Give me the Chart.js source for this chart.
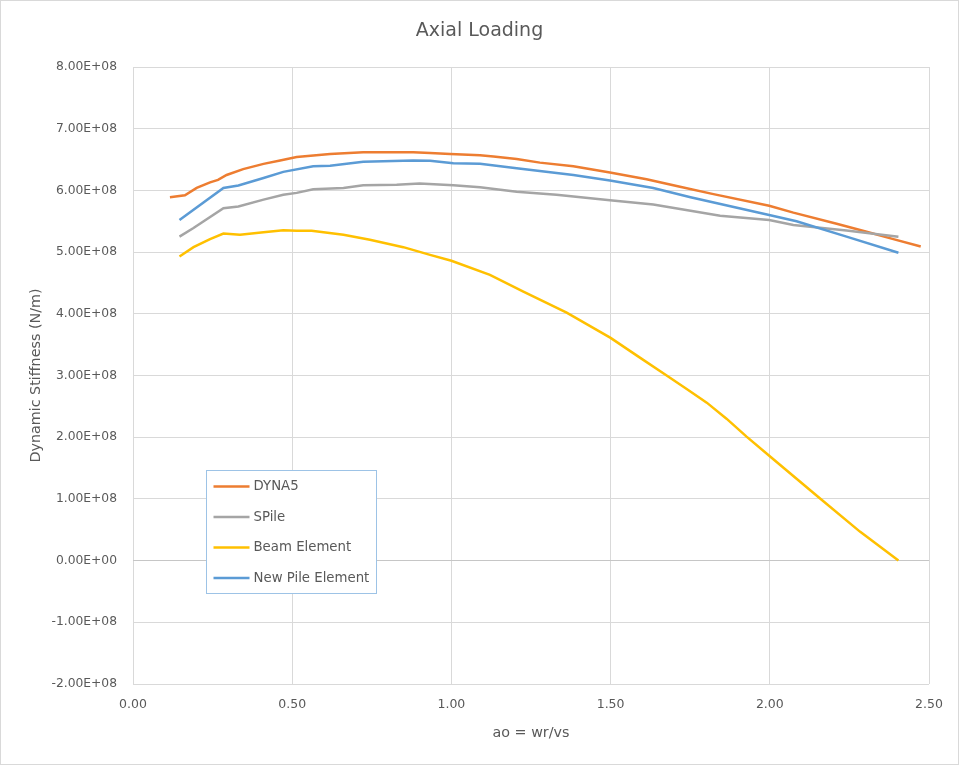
<!DOCTYPE html>
<html>
<head>
<meta charset="utf-8">
<script src="https://cdn.jsdelivr.net/npm/chart.js@4/dist/chart.umd.min.js"></script>
<style>
  html, body { margin: 0; padding: 0; background: #ffffff; }
  #wrap { width: 959px; height: 765px; position: relative; }
</style>
</head>
<body>
<div id="wrap"><canvas id="c" width="959" height="765"></canvas></div>
<script>
// ---- Data (stiffness in units of 1E+08 N/m) ----
const seriesNames = ["DYNA5", "SPile", "Beam Element", "New Pile Element"];

const dyna5X = [0.116,0.163,0.20,0.242,0.267,0.294,0.346,0.41,0.462,0.514,0.619,0.723,0.88,0.933,0.996,1.09,1.132,1.205,1.278,1.383,1.498,1.613,1.718,1.823,1.998,2.074,2.21,2.304,2.388,2.474];
const dyna5Y = [5.89,5.92,6.04,6.13,6.17,6.25,6.345,6.43,6.485,6.54,6.59,6.62,6.62,6.605,6.59,6.57,6.55,6.51,6.45,6.39,6.29,6.18,6.06,5.94,5.75,5.64,5.46,5.33,5.21,5.09];

const spileX = [0.146,0.19,0.284,0.331,0.41,0.472,0.514,0.566,0.661,0.723,0.828,0.90,1.006,1.09,1.205,1.330,1.498,1.634,1.751,1.844,1.998,2.074,2.241,2.404];
const spileY = [5.25,5.39,5.71,5.74,5.85,5.93,5.96,6.02,6.04,6.085,6.09,6.11,6.085,6.05,5.98,5.93,5.84,5.77,5.67,5.59,5.52,5.44,5.35,5.25];

const beamX = [0.146,0.19,0.242,0.284,0.336,0.41,0.472,0.514,0.561,0.661,0.744,0.849,0.933,1.0,1.121,1.226,1.362,1.50,1.592,1.676,1.739,1.802,1.864,1.927,2.0,2.157,2.283,2.404];
const beamY = [4.93,5.08,5.21,5.30,5.28,5.32,5.355,5.345,5.345,5.28,5.20,5.08,4.955,4.86,4.63,4.36,4.02,3.61,3.29,3.00,2.78,2.56,2.30,2.01,1.69,1.01,0.47,0.0];

const newPileX = [0.146,0.284,0.331,0.41,0.472,0.566,0.619,0.723,0.88,0.933,1.006,1.09,1.205,1.383,1.498,1.634,1.751,1.998,2.084,2.241,2.404];
const newPileY = [5.52,6.04,6.08,6.20,6.30,6.39,6.40,6.465,6.485,6.48,6.44,6.43,6.36,6.25,6.16,6.04,5.89,5.60,5.50,5.25,4.99];

const xTickValues = [0, 0.5, 1.0, 1.5, 2.0, 2.5];
const yTickValues = [-2e8, -1e8, 0, 1e8, 2e8, 3e8, 4e8, 5e8, 6e8, 7e8, 8e8];

const UNIT = 1e8;
function toPoints(xs, ys) { return xs.map((x, i) => ({ x: x, y: ys[i] * UNIT })); }

const colors = ["#ED7D31", "#A5A5A5", "#FFC000", "#5B9BD5"];
const TEXT = "#595959";
const FONT = "'DejaVu Sans', sans-serif";

function sci(v) {
  if (v === 0) return "0.00E+00";
  const sign = v < 0 ? "-" : "";
  const a = Math.abs(v);
  const e = Math.floor(Math.log10(a) + 1e-9);
  const m = a / Math.pow(10, e);
  return sign + m.toFixed(2) + "E+" + String(e).padStart(2, "0");
}

const bgPlugin = {
  id: "bg",
  beforeDraw(chart) {
    const ctx = chart.ctx;
    ctx.save();
    ctx.fillStyle = "#ffffff";
    ctx.fillRect(0, 0, chart.width, chart.height);
    ctx.strokeStyle = "#d9d9d9";
    ctx.lineWidth = 1;
    ctx.strokeRect(0.5, 0.5, chart.width - 1, chart.height - 1);
    ctx.restore();
  }
};

const legendPlugin = {
  id: "boxLegend",
  afterDraw(chart) {
    const ctx = chart.ctx;
    const ca = chart.chartArea;
    const bx = ca.left + 73.5, by = ca.top + 403.5, bw = 170, bh = 123;
    ctx.save();
    ctx.fillStyle = "#ffffff";
    ctx.fillRect(bx, by, bw, bh);
    ctx.strokeStyle = "#9DC3E6";
    ctx.lineWidth = 1;
    ctx.strokeRect(bx, by, bw, bh);
    ctx.font = "13.3px " + FONT;
    ctx.textBaseline = "middle";
    ctx.textAlign = "left";
    chart.data.datasets.forEach((ds, i) => {
      const y = by + 16 + i * 30.5;
      ctx.strokeStyle = ds.borderColor;
      ctx.lineWidth = 2.5;
      ctx.beginPath();
      ctx.moveTo(bx + 7, y);
      ctx.lineTo(bx + 43, y);
      ctx.stroke();
      ctx.fillStyle = TEXT;
      ctx.fillText(ds.label, bx + 47, y + 0.5);
    });
    ctx.restore();
  }
};

const datasets = [
  toPoints(dyna5X, dyna5Y),
  toPoints(spileX, spileY),
  toPoints(beamX, beamY),
  toPoints(newPileX, newPileY)
].map((pts, i) => ({
  label: seriesNames[i],
  data: pts,
  borderColor: colors[i],
  backgroundColor: colors[i],
  borderWidth: 2.5,
  pointRadius: 0,
  tension: 0,
  fill: false,
  order: 4 - i
}));

new Chart(document.getElementById("c"), {
  type: "line",
  data: { datasets: datasets },
  plugins: [bgPlugin, legendPlugin],
  options: {
    responsive: false,
    animation: false,
    layout: { padding: { left: 0, right: 0, top: 0, bottom: 0 } },
    plugins: {
      legend: { display: false },
      tooltip: { enabled: false },
      title: {
        display: true,
        text: "Axial Loading",
        color: TEXT,
        font: { family: FONT, size: 19, weight: "normal", lineHeight: 1.2 },
        padding: { top: 19.5, bottom: 24.7 }
      }
    },
    scales: {
      x: {
        type: "linear",
        min: 0, max: 2.5,
        afterFit(scale) { scale.height = 81; },
        afterBuildTicks(scale) { scale.ticks = xTickValues.map(v => ({ value: v })); },
        grid: { color: "#d9d9d9", lineWidth: 1, drawTicks: false },
        border: { display: false },
        ticks: {
          color: TEXT, padding: 13,
          font: { family: FONT, size: 12.5 },
          callback: v => Number(v).toFixed(2)
        },
        title: {
          display: true, text: "ao = wr/vs", color: TEXT,
          font: { family: FONT, size: 14.3, lineHeight: 1.2 },
          padding: { top: 0, bottom: 23 }
        }
      },
      y: {
        type: "linear",
        min: -2e8, max: 8e8,
        afterFit(scale) { scale.width = 133; },
        afterBuildTicks(scale) { scale.ticks = yTickValues.map(v => ({ value: v })); },
        grid: {
          color: ctx => (ctx.tick && ctx.tick.value === 0) ? "#c6c6c6" : "#d9d9d9",
          lineWidth: 1, drawTicks: false
        },
        border: { display: false },
        ticks: {
          color: TEXT, padding: 16,
          font: { family: FONT, size: 12.3 },
          callback: v => sci(v)
        },
        title: {
          display: true, text: "Dynamic Stiffness (N/m)", color: TEXT,
          font: { family: FONT, size: 14.3, lineHeight: 1.2 },
          padding: { top: 28, bottom: 0 }
        }
      },
      yPad: {
        type: "linear",
        position: "right",
        display: true,
        afterFit(scale) { scale.width = 30; },
        grid: { display: false, drawTicks: false },
        border: { display: false },
        ticks: { display: false },
        title: { display: false }
      }
    }
  }
});
</script>
</body>
</html>
